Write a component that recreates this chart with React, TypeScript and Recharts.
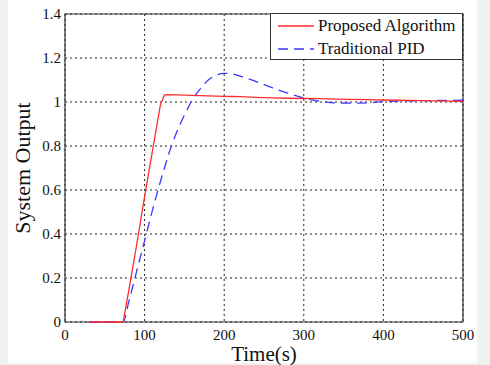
import React from 'react';
import { LineChart, Line, XAxis, YAxis, CartesianGrid, ReferenceArea, Legend } from 'recharts';

const timeS = [30, 50, 73, 80, 90, 100, 110, 120, 125, 130, 140, 150, 160, 170, 180, 190, 200, 210, 220, 240, 260, 280, 300, 320, 340, 360, 380, 400, 450, 500];
const proposed = [0, 0, 0, 0.14, 0.35, 0.57, 0.78, 0.99, 1.032, 1.033, 1.032, 1.031, 1.03, 1.029, 1.028, 1.027, 1.026, 1.025, 1.024, 1.021, 1.019, 1.017, 1.016, 1.015, 1.013, 1.012, 1.011, 1.009, 1.006, 1.003];
const traditional = [0, 0, 0, 0.09, 0.23, 0.37, 0.51, 0.64, 0.7, 0.76, 0.86, 0.94, 1.01, 1.06, 1.1, 1.122, 1.13, 1.128, 1.118, 1.093, 1.065, 1.04, 1.018, 1.004, 0.996, 0.995, 0.996, 1.002, 1.006, 1.008];
const xTicks = [0, 100, 200, 300, 400, 500];
const yTicks = [0, 0.2, 0.4, 0.6, 0.8, 1, 1.2, 1.4];
const seriesNames = ['Proposed Algorithm', 'Traditional PID'];

const data = timeS.map((t, i) => ({ t, proposed: proposed[i], traditional: traditional[i] }));

const FONT = 'Liberation Serif';
const RED = '#ff2d2d';
const BLUE = '#3a3aff';

const LegendBox = () => (
  <div style={{ width: 191, height: 45, border: '1px solid #333', background: '#fff', fontFamily: FONT, fontSize: 17, color: '#111', position: 'relative' }}>
    <svg width={191} height={45} style={{ position: 'absolute', left: 0, top: 0 }}>
      <line x1={7} x2={43} y1={12} y2={12} stroke={RED} strokeWidth={1.3} />
      <line x1={7} x2={43} y1={35} y2={35} stroke={BLUE} strokeWidth={1.3} strokeDasharray="10 6" />
    </svg>
    <div style={{ position: 'absolute', left: 47, top: 1, lineHeight: '22px', whiteSpace: 'nowrap', fontFamily: FONT }}>{seriesNames[0]}</div>
    <div style={{ position: 'absolute', left: 47, top: 24, lineHeight: '22px', whiteSpace: 'nowrap', fontFamily: FONT }}>{seriesNames[1]}</div>
  </div>
);

const tickStyle = { fill: '#111', fontSize: 15, fontFamily: FONT };

export default function App() {
  return (
    <div style={{ position: 'absolute', left: 0, top: 0, width: 490, height: 365, background: '#f1f1f1', fontFamily: FONT }}>
      <div style={{ position: 'absolute', left: 8, top: 0, width: 469, height: 363, background: '#fff' }} />
      <div style={{ position: 'absolute', left: 0, top: 0 }}>
        <LineChart width={490} height={365} data={data} margin={{ top: 14, right: 27, bottom: 0, left: 10 }} style={{ fontFamily: FONT }}>
          <CartesianGrid stroke="#222" strokeDasharray="2 3" />
          <XAxis dataKey="t" type="number" domain={[0, 500]} ticks={xTicks} height={43} tickSize={0} tickMargin={7}
            fontSize={15} fontFamily={FONT}
            axisLine={false} tickLine={false} tick={tickStyle}
            label={{ value: 'Time(s)', position: 'insideBottom', offset: 4, style: { fontSize: 21, fill: '#111', fontFamily: FONT } }} />
          <XAxis xAxisId="inner" type="number" domain={[0, 500]} ticks={xTicks} mirror tick={false} tickSize={5} axisLine={false} tickLine={{ stroke: '#333' }} />
          <YAxis type="number" domain={[0, 1.4]} ticks={yTicks} width={55} tickSize={0} tickMargin={4}
            fontSize={15} fontFamily={FONT}
            axisLine={false} tickLine={false} tick={tickStyle}
            label={{ value: 'System Output', angle: -90, position: 'insideLeft', offset: 12, style: { fontSize: 22, fill: '#111', fontFamily: FONT, textAnchor: 'middle' } }} />
          <YAxis yAxisId="rightIn" orientation="right" type="number" domain={[0, 1.4]} ticks={yTicks} mirror tick={false} tickSize={5} axisLine={false} tickLine={{ stroke: '#333' }} />
          <ReferenceArea x1={0} x2={500} y1={0} y2={1.4} fill="none" stroke="#333" strokeWidth={1.2} ifOverflow="visible" />
          <Line type="monotone" dataKey="traditional" stroke={BLUE} strokeWidth={1.3} strokeDasharray="10 6" dot={false} isAnimationActive={false} />
          <Line type="linear" dataKey="proposed" stroke={RED} strokeWidth={1.3} dot={false} isAnimationActive={false} />
          <Legend layout="horizontal" verticalAlign="middle" align="center" content={() => <LegendBox />}
            wrapperStyle={{ left: 270, top: 13, width: 193, height: 47 }} />
        </LineChart>
      </div>
    </div>
  );
}
